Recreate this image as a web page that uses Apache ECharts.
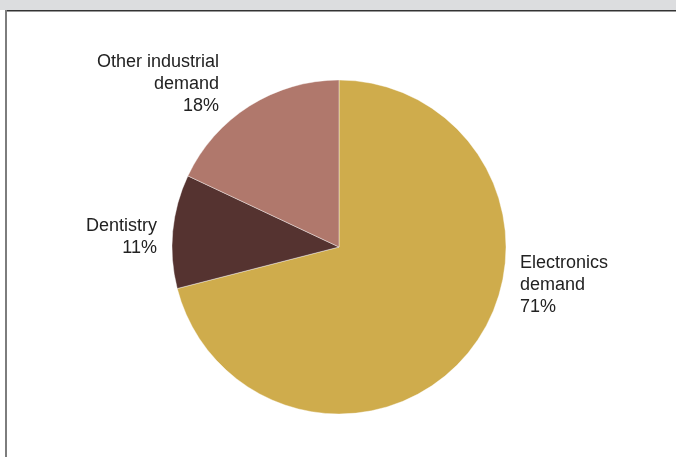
<!DOCTYPE html>
<html>
<head>
<meta charset="utf-8">
<script src="https://cdn.jsdelivr.net/npm/echarts@6/dist/echarts.min.js"></script>
<style>
  html, body { margin: 0; padding: 0; background: #ffffff; }
  #chart { width: 676px; height: 457px; }
</style>
</head>
<body>
<div id="chart"></div>
<script>
// Gold demand by end use, share of total (%)
const categories = ['Electronics\ndemand', 'Dentistry', 'Other industrial\ndemand'];
const shares = [71, 11, 18];
const sliceColors = ['#cfac4c', '#553330', '#b0786c'];

// Where each label block sits relative to the pie
const labelSpots = [
  { x: 520, y: 285, align: 'left' },
  { x: 157, y: 237, align: 'right' },
  { x: 219, y: 84, align: 'right' }
];

const chart = echarts.init(document.getElementById('chart'), null, { renderer: 'canvas' });

chart.setOption({
  animation: false,
  backgroundColor: '#ffffff',
  graphic: [
    { type: 'rect', shape: { x: 0, y: 0, width: 676, height: 10 }, style: { fill: '#dcdddf' }, silent: true },
    { type: 'rect', shape: { x: 5, y: 10, width: 671, height: 1.5 }, style: { fill: '#333333' }, silent: true },
    { type: 'rect', shape: { x: 5, y: 10, width: 2, height: 447 }, style: { fill: '#7d7d7d' }, silent: true }
  ],
  series: [{
    type: 'pie',
    center: [339, 247],
    radius: 167,
    startAngle: 90,
    clockwise: true,
    avoidLabelOverlap: false,
    itemStyle: { borderColor: 'rgba(255,255,255,0.5)', borderWidth: 0.8 },
    label: {
      show: true,
      position: 'outside',
      formatter: p => p.name + '\n' + p.value + '%',
      fontFamily: 'Liberation Sans, Arial, sans-serif',
      fontSize: 18,
      lineHeight: 22,
      color: '#222222'
    },
    labelLine: { show: false },
    labelLayout: function (params) {
      const s = labelSpots[params.dataIndex];
      return { x: s.x, y: s.y, align: s.align, verticalAlign: 'middle' };
    },
    emphasis: { disabled: true },
    data: categories.map((name, i) => ({
      name: name,
      value: shares[i],
      itemStyle: { color: sliceColors[i] },
      label: { align: labelSpots[i].align }
    }))
  }]
});
</script>
</body>
</html>
